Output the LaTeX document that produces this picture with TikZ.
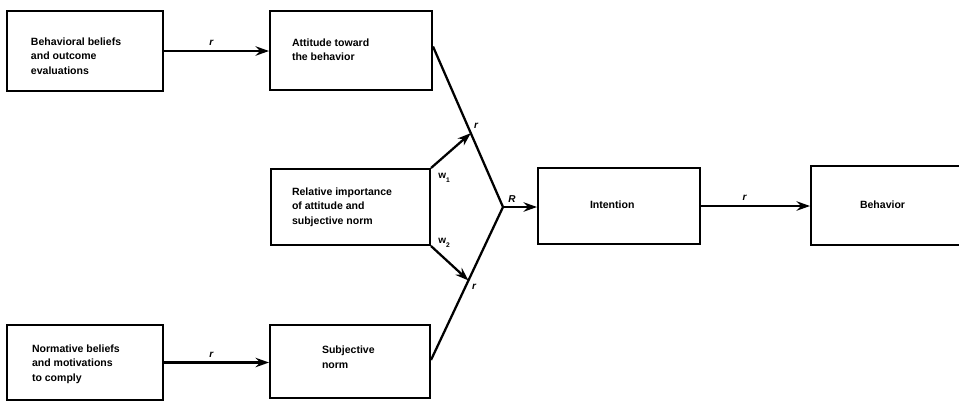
\documentclass[tikz,border=0pt]{standalone}
\usepackage{fontspec}
\setmainfont{Liberation Sans}
\usetikzlibrary{arrows.meta,calc}
\newcommand\boxtext[2]{\makebox[#1][l]{\begin{tabular}{@{}l@{}}#2\end{tabular}}}
\tikzset{
  box/.style={draw, line width=1.5pt, rectangle, font=\bfseries\fontsize{7.9}{10.8}\selectfont, inner ysep=0pt, anchor=center},
  conn/.style={line width=1.7pt},
  arr/.style={conn, -{Stealth[length=10pt,width=7pt]}},
  lbl/.style={font=\bfseries\itshape\fontsize{7.5}{8}\selectfont, inner sep=1pt}
}
\begin{document}
\begin{tikzpicture}[x=0.75pt,y=-0.75pt]
\useasboundingbox (0,0) rectangle (959,401);
\fill[white] (0,0) rectangle (959,401);
\clip (0,0) rectangle (959,401);
% boxes: width = text box width + 2*inner xsep
\node[box, inner xsep=18pt, minimum height=60pt] (B1) at (85,51) {\raisebox{-4.5pt}[\height][\depth]{\boxtext{81pt}{Behavioral beliefs\\and outcome\\evaluations}}};
\node[box, inner xsep=16.5pt, minimum height=59pt] (B2) at (351,50.5) {\boxtext{88.5pt}{Attitude toward\\the behavior}};
\node[box, inner xsep=15.75pt, minimum height=57pt] (B3) at (350.5,207) {\boxtext{87.75pt}{Relative importance\\of attitude and\\subjective norm}};
\node[box, inner xsep=18.75pt, minimum height=56pt] (B4) at (85,362.5) {\raisebox{-1pt}[\height][\depth]{\boxtext{79.5pt}{Normative beliefs\\and motivations\\to comply}}};
\node[box, inner xsep=39pt, minimum height=55pt] (B5) at (350,361.5) {\raisebox{2.5pt}[\height][\depth]{\boxtext{42pt}{Subjective\\norm}}};
\node[box, inner xsep=39pt, minimum height=57pt] (B6) at (619,206) {\boxtext{43.5pt}{Intention}};
\node[box, inner xsep=36.75pt, minimum height=59pt] (B7) at (893.5,205.5) {\boxtext{50.25pt}{Behavior}};
% connectors
\coordinate (R) at (503,207);
\draw[arr] (B1.east) -- node[lbl, above=2pt, pos=0.45] (l1) {r} (B1.east -| B2.west);
\draw[arr] (B4.east) -- node[lbl, above=2pt, pos=0.45] (l2) {r} (B4.east -| B5.west);
\draw[arr] (B6.east) -- node[lbl, above=2pt, pos=0.4] (l3) {r} (B6.east -| B7.west);
\draw[conn] ($(B2.north east)!0.45!(B2.south east)$) coordinate (Ua) -- (R);
\draw[conn] ($(B5.north east)!0.48!(B5.south east)$) coordinate (La) -- (R);
\coordinate (A1) at ($(Ua)!0.54!(R)$);
\coordinate (A2) at ($(La)!0.52!(R)$);
\draw[arr] (B3.north east) -- (A1);
\draw[arr] (B3.south east) -- (A2);
\draw[arr] (R) -- (R -| B6.west);
\node[lbl] (lr1) at (476,126) {r};
\node[lbl] (lr2) at (474,287) {r};
\node[lbl, font=\bfseries\fontsize{7.5}{8}\selectfont] (lw1) at (444,178) {w\raisebox{-2.5pt}{\fontsize{5}{6}\selectfont 1}};
\node[lbl, font=\bfseries\fontsize{7.5}{8}\selectfont] (lw2) at (444,243) {w\raisebox{-2.5pt}{\fontsize{5}{6}\selectfont 2}};
\node[lbl] (lR) at (512,199) {R};
\end{tikzpicture}
\end{document}
